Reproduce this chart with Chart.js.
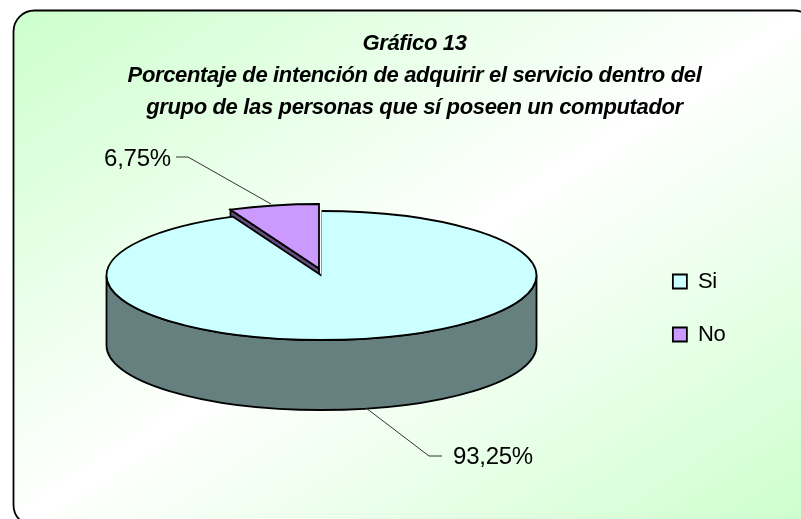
<!DOCTYPE html>
<html><head><meta charset="utf-8">
<style>html,body{margin:0;padding:0;background:#fff;overflow:hidden}#w{width:801px;height:519px;position:relative}</style>
<script src="https://cdn.jsdelivr.net/npm/chart.js@4"></script></head>
<body><div id="w"><canvas id="c"></canvas></div>
<script>
const categories = ['Si', 'No'];
const values = [93.25, 6.75];
const titleLines = ['Gráfico 13',
  'Porcentaje de intención de adquirir el servicio dentro del',
  'grupo de las personas que sí poseen un computador'];
const topColors = ['#ccffff', '#cc99ff'];
const wallColors = ['#668080', '#664d80'];

const CX = 321.5, CY = 275.5, RX = 215, RY = 64.5, DEPTH = 70;
const EXPLODE = [[0, 0], [-2.5, -7]];
const FONT = 'Liberation Sans, Arial, sans-serif';
const LABELS = [
  {x: 493, y: 457, line: [[442,456],[429,456],[366,408]]},
  {x: 137.5, y: 159, line: [[176,157],[188,157],[271,204]]}
];

function fmt(v){ return v.toFixed(2).replace('.', ',') + '%'; }

function place(ctx, arc, i){
  ctx.translate(CX + EXPLODE[i][0], CY + EXPLODE[i][1]);
  ctx.scale(1, RY / RX);
  ctx.translate(-arc.x, -arc.y);
}

const backdrop = {
  id: 'backdrop',
  beforeDraw(chart){
    const ctx = chart.ctx, L = 13.5, T = 10.5, R = 815, B = 526;
    const w = R - L, h = B - T, n = Math.hypot(w, h);
    const ux = h / n, uy = w / n, t = (w / 2 * ux + h / 2 * uy);
    const mx = (L + R) / 2, my = (T + B) / 2;
    const g = ctx.createLinearGradient(mx - t * ux, my - t * uy, mx + t * ux, my + t * uy);
    g.addColorStop(0, '#ccffcc'); g.addColorStop(0.5, '#ffffff'); g.addColorStop(1, '#ccffcc');
    ctx.save();
    ctx.beginPath();
    ctx.roundRect(L, T, w, h, 21);
    ctx.fillStyle = g; ctx.fill();
    ctx.lineWidth = 1.8; ctx.strokeStyle = '#000'; ctx.stroke();
    ctx.restore();
    ctx.letterSpacing = '-0.35px';
  }
};

const pie3d = {
  id: 'pie3d',
  beforeDatasetsDraw(chart){
    const ctx = chart.ctx, arcs = chart.getDatasetMeta(0).data;
    const si = arcs[0], no = arcs[1];
    const lw = 1.8;
    ctx.save();
    ctx.letterSpacing = '0px';
    const a = Math.max(0, si.startAngle), b = Math.min(Math.PI, si.endAngle);
    ctx.save(); place(ctx, si, 0);
    ctx.beginPath();
    ctx.arc(si.x, si.y, si.outerRadius, a, b);
    ctx.translate(0, DEPTH * RX / RY);
    ctx.arc(si.x, si.y, si.outerRadius, b, a, true);
    ctx.closePath();
    ctx.restore();
    ctx.fillStyle = wallColors[0]; ctx.fill();
    ctx.lineWidth = lw; ctx.strokeStyle = '#000'; ctx.stroke();
    ctx.save(); place(ctx, no, 1);
    ctx.beginPath();
    const ex = no.x + no.outerRadius * Math.cos(no.startAngle);
    const ey = no.y + no.outerRadius * Math.sin(no.startAngle);
    const dz = DEPTH * RX / RY;
    ctx.moveTo(no.x, no.y); ctx.lineTo(ex, ey); ctx.lineTo(ex, ey + dz); ctx.lineTo(no.x, no.y + dz);
    ctx.closePath();
    ctx.restore();
    ctx.fillStyle = wallColors[1]; ctx.fill();
    ctx.lineWidth = lw; ctx.stroke();
    arcs.forEach((arc, i) => { ctx.save(); place(ctx, arc, i); arc.draw(ctx); ctx.restore(); });
    ctx.lineWidth = lw; ctx.strokeStyle = '#000';
    ctx.save(); place(ctx, si, 0);
    ctx.beginPath();
    ctx.arc(si.x, si.y, si.outerRadius, si.startAngle, si.endAngle);
    ctx.lineTo(si.x, si.y);
    ctx.restore(); ctx.stroke();
    ctx.save(); place(ctx, si, 0);
    ctx.beginPath();
    ctx.moveTo(si.x, si.y + 4);
    ctx.lineTo(si.x, si.y - si.outerRadius);
    ctx.restore();
    ctx.lineWidth = 1; ctx.strokeStyle = '#999'; ctx.stroke();
    ctx.lineWidth = lw; ctx.strokeStyle = '#000';
    ctx.save(); place(ctx, no, 1);
    ctx.beginPath();
    ctx.moveTo(no.x, no.y);
    ctx.arc(no.x, no.y, no.outerRadius, no.startAngle, no.endAngle);
    ctx.closePath();
    ctx.restore(); ctx.stroke();
    ctx.fillStyle = '#000'; ctx.font = '24px ' + FONT;
    ctx.letterSpacing = '-0.25px';
    ctx.textAlign = 'center'; ctx.textBaseline = 'middle';
    LABELS.forEach((l, i) => {
      ctx.fillText(fmt(values[i]), l.x, l.y);
      ctx.beginPath();
      l.line.forEach((p, k) => k ? ctx.lineTo(p[0], p[1]) : ctx.moveTo(p[0], p[1]));
      ctx.lineWidth = 1; ctx.strokeStyle = '#333'; ctx.stroke();
    });
    ctx.restore();
    return false;
  }
};

new Chart(document.getElementById('c'), {
  type: 'pie',
  data: { labels: categories, datasets: [{
    data: values, backgroundColor: topColors, borderWidth: 0, radius: RX
  }]},
  plugins: [backdrop, pie3d],
  options: {
    responsive: true, maintainAspectRatio: false, animation: false,
    layout: { padding: { left: 93, right: 65, top: 28, bottom: 27 } },
    events: [],
    plugins: {
      tooltip: { enabled: false },
      title: { display: true, text: titleLines, color: '#000', padding: {top: 0, bottom: 0},
        font: { family: FONT, size: 22, weight: 'bold', style: 'italic', lineHeight: '32px' } },
      legend: { position: 'right', fullSize: false, labels: {
        color: '#000', boxWidth: 14, boxHeight: 14, padding: 31,
        font: { family: FONT, size: 22 },
        generateLabels(chart){
          const items = Chart.overrides.pie.plugins.legend.labels.generateLabels(chart);
          items.forEach(it => { it.lineWidth = 1.8; it.strokeStyle = '#000'; });
          return items;
        }
      } }
    }
  }
});
</script></body></html>
